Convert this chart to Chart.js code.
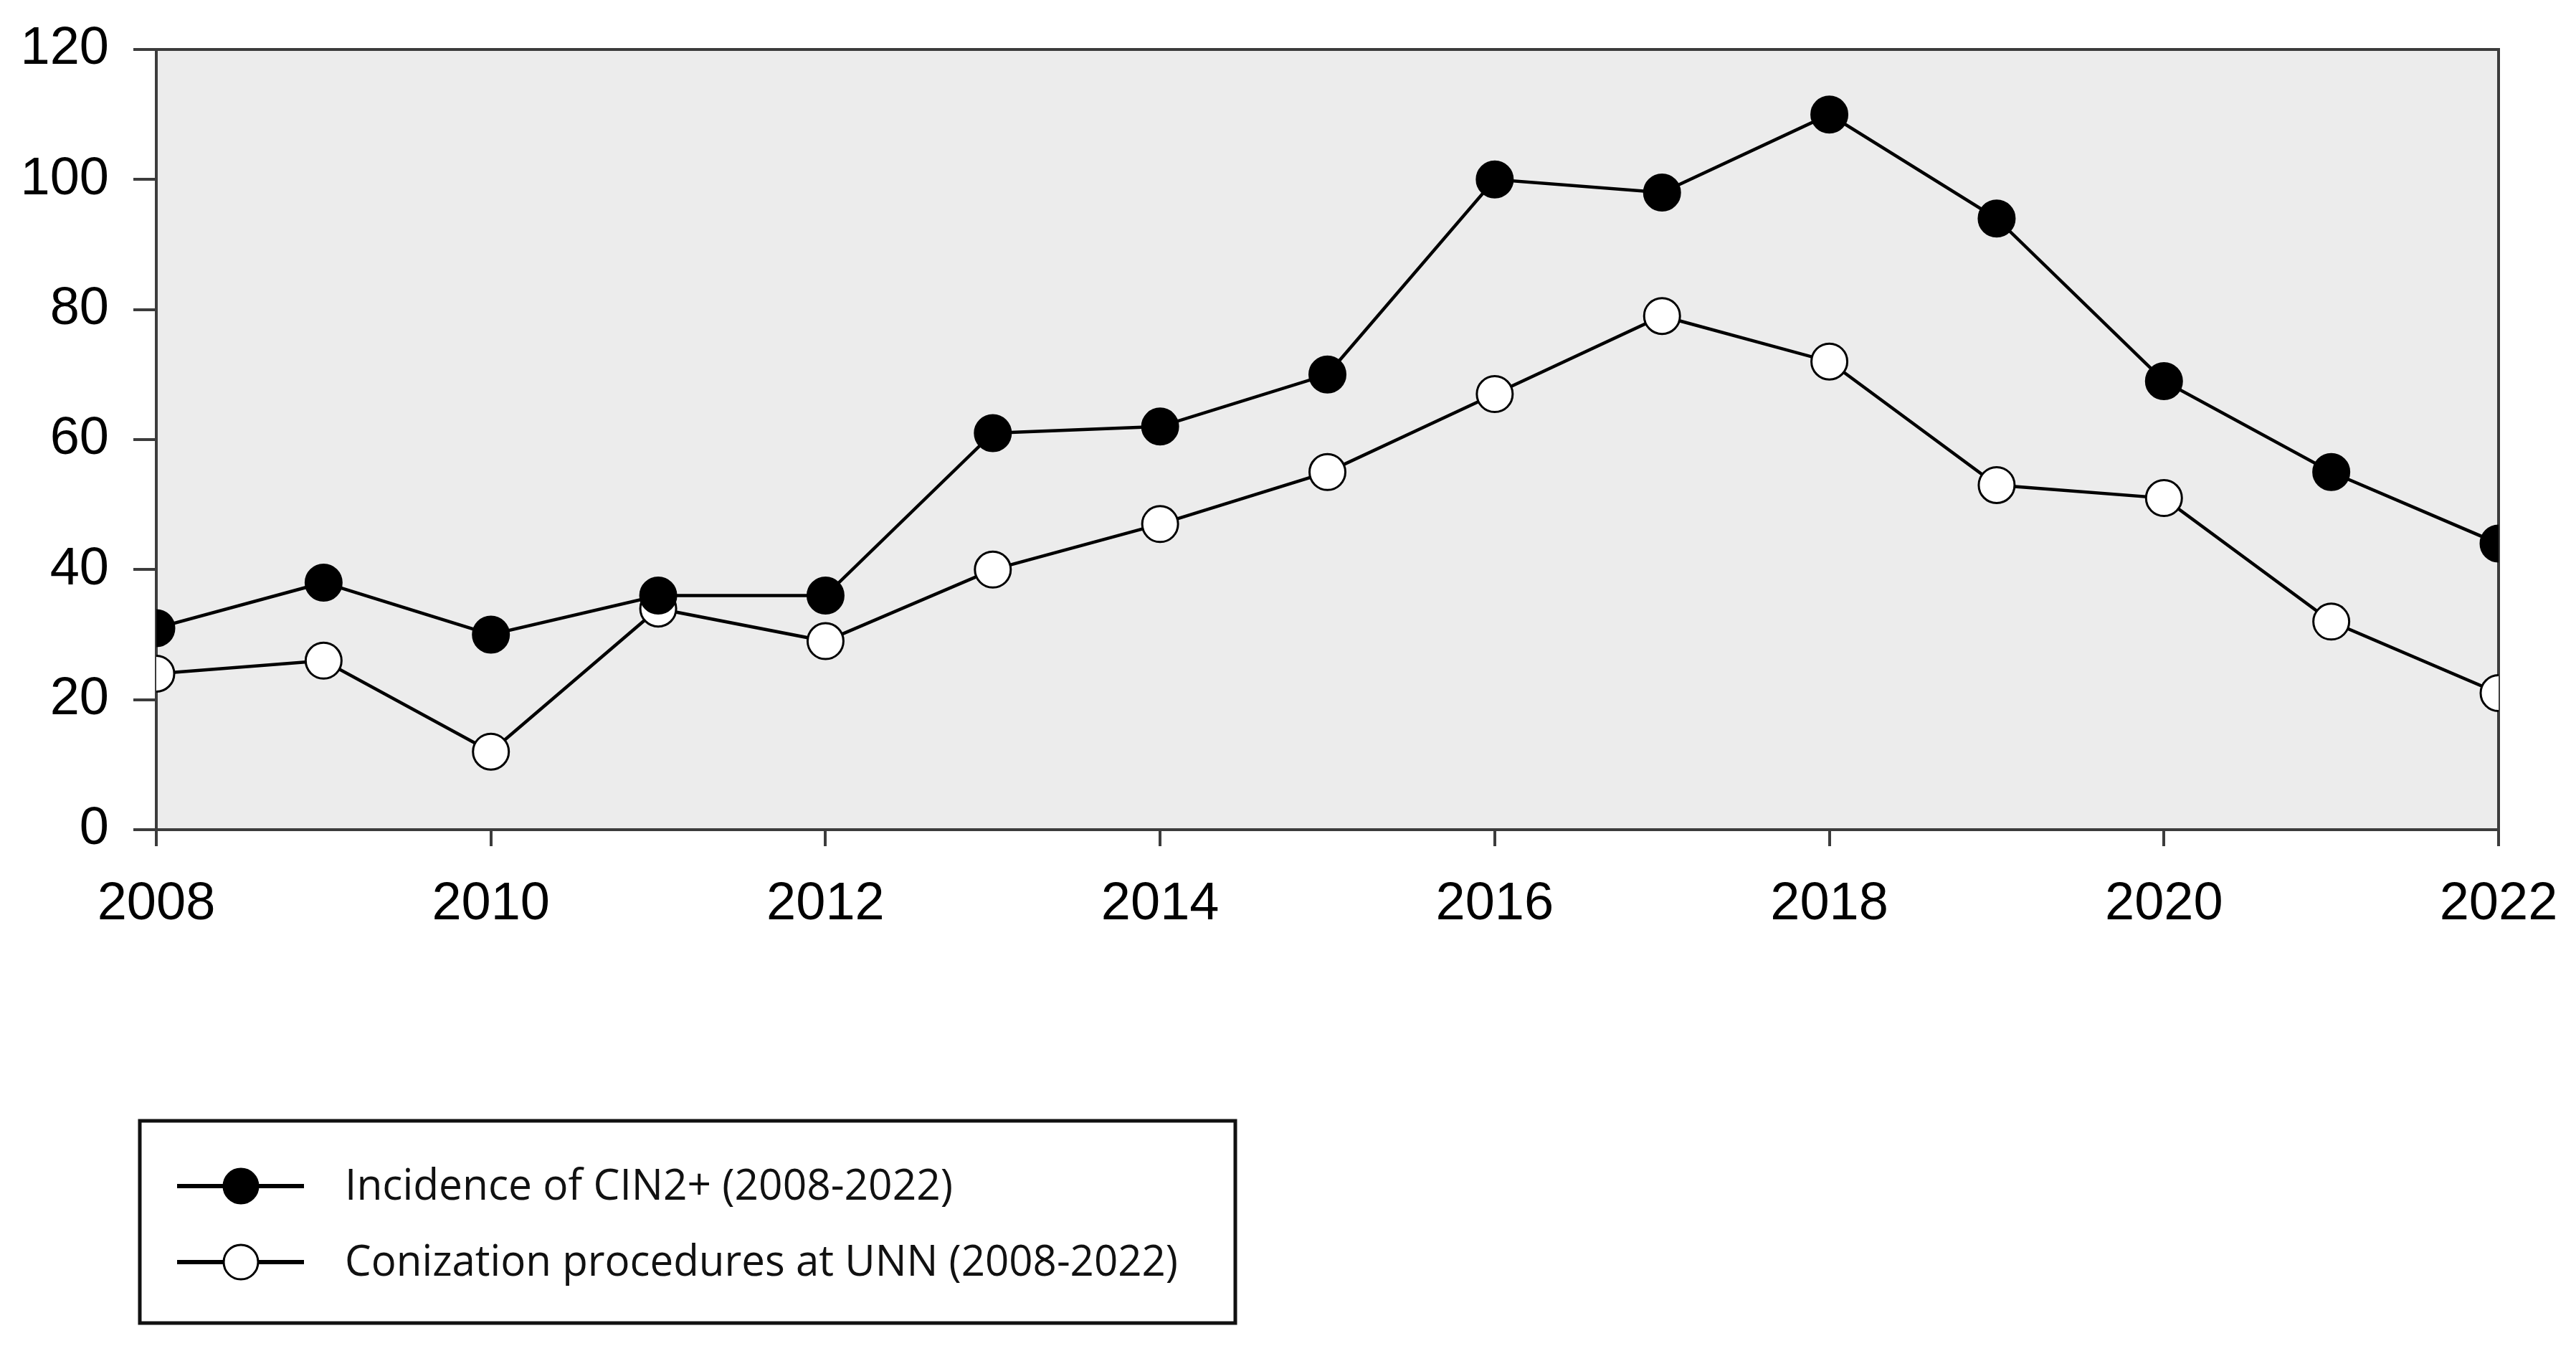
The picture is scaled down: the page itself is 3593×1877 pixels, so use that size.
<!DOCTYPE html>
<html>
<head>
<meta charset="utf-8">
<script src="https://cdn.jsdelivr.net/npm/chart.js@4"></script>
<style>
  body { margin: 0; background: #fff; }
  #wrap { width: 3593px; height: 1877px; position: relative; }
</style>
</head>
<body>
<div id="wrap"><canvas id="lineChart"></canvas></div>
<script>
// data
const years = [2008, 2009, 2010, 2011, 2012, 2013, 2014, 2015, 2016, 2017, 2018, 2019, 2020, 2021, 2022];
const cinIncidence = [31, 38, 30, 36, 36, 61, 62, 70, 100, 98, 110, 94, 69, 55, 44];
const conizations = [24, 26, 12, 34, 29, 40, 47, 55, 67, 79, 72, 53, 51, 32, 21];
const seriesLabels = ['Incidence of CIN2+ (2008-2022)', 'Conization procedures at UNN (2008-2022)'];
const yTicks = [0, 20, 40, 60, 80, 100, 120];

const axisColor = '#3c3c3c';

// plot background + frame
const frame = {
  id: 'frame',
  beforeDraw(chart) {
    const a = chart.chartArea, c = chart.ctx;
    c.save();
    c.fillStyle = '#ececec';
    c.fillRect(a.left, a.top, a.right - a.left, a.bottom - a.top);
    c.restore();
  },
  beforeDatasetsDraw(chart) {
    const a = chart.chartArea, c = chart.ctx;
    c.save();
    c.strokeStyle = axisColor;
    c.lineWidth = 4;
    c.beginPath();
    c.moveTo(a.left, a.top);
    c.lineTo(a.right, a.top);
    c.lineTo(a.right, a.bottom);
    c.stroke();
    c.restore();
  }
};

// boxed legend under the plot
const boxLegend = {
  id: 'boxLegend',
  afterDraw(chart) {
    const c = chart.ctx;
    c.save();
    c.strokeStyle = '#111';
    c.lineWidth = 5;
    c.strokeRect(195, 1563, 1528, 282);
    const rows = [1654, 1760];
    chart.data.datasets.forEach(function (ds, i) {
      const y = rows[i];
      c.strokeStyle = '#000';
      c.lineWidth = 6;
      c.beginPath();
      c.moveTo(247, y);
      c.lineTo(424, y);
      c.stroke();
      c.beginPath();
      c.arc(336, y, 24, 0, Math.PI * 2);
      c.fillStyle = ds.pointBackgroundColor;
      c.fill();
      c.lineWidth = 3;
      c.stroke();
      c.fillStyle = '#111';
      c.font = '60px "Open Sans"';
      c.textBaseline = 'middle';
      c.fillText(ds.label, 481, y + 2, i === 0 ? 848 : 1162);
    });
    c.restore();
  }
};

new Chart(document.getElementById('lineChart'), {
  type: 'line',
  data: {
    datasets: [
      {
        label: seriesLabels[0],
        data: years.map((yr, i) => ({ x: yr, y: cinIncidence[i] })),
        borderColor: '#000',
        borderWidth: 4.5,
        pointRadius: 25,
        pointBackgroundColor: '#000',
        pointBorderColor: '#000',
        pointBorderWidth: 3
      },
      {
        label: seriesLabels[1],
        data: years.map((yr, i) => ({ x: yr, y: conizations[i] })),
        borderColor: '#000',
        borderWidth: 4.5,
        pointRadius: 25,
        pointBackgroundColor: '#fff',
        pointBorderColor: '#000',
        pointBorderWidth: 3
      }
    ]
  },
  options: {
    responsive: true,
    maintainAspectRatio: false,
    animation: false,
    layout: { padding: { top: 69, right: 108, bottom: 570, left: 0 } },
    plugins: { legend: { display: false }, tooltip: { enabled: false } },
    scales: {
      x: {
        type: 'linear',
        min: 2008,
        max: 2022,
        afterFit(s) { s.height = 150; s.paddingLeft = 0; s.paddingRight = 0; },
        ticks: {
          stepSize: 2,
          callback: v => String(v),
          color: '#000',
          padding: 37,
          font: { family: '"Liberation Sans", Arial', size: 74 }
        },
        grid: { drawOnChartArea: false, drawTicks: true, tickLength: 23, color: axisColor, lineWidth: 4 },
        border: { display: true, color: axisColor, width: 4 }
      },
      y: {
        min: 0,
        max: 120,
        afterFit(s) { s.width = 218; s.paddingTop = 0; s.paddingBottom = 0; },
        afterBuildTicks(s) { s.ticks = yTicks.map(v => ({ value: v })); },
        ticks: {
          color: '#000',
          padding: 34,
          font: { family: '"Liberation Sans", Arial', size: 74 }
        },
        grid: { drawOnChartArea: false, drawTicks: true, tickLength: 32, color: axisColor, lineWidth: 4 },
        border: { display: true, color: axisColor, width: 4 }
      }
    }
  },
  plugins: [frame, boxLegend]
});
</script>
</body>
</html>
